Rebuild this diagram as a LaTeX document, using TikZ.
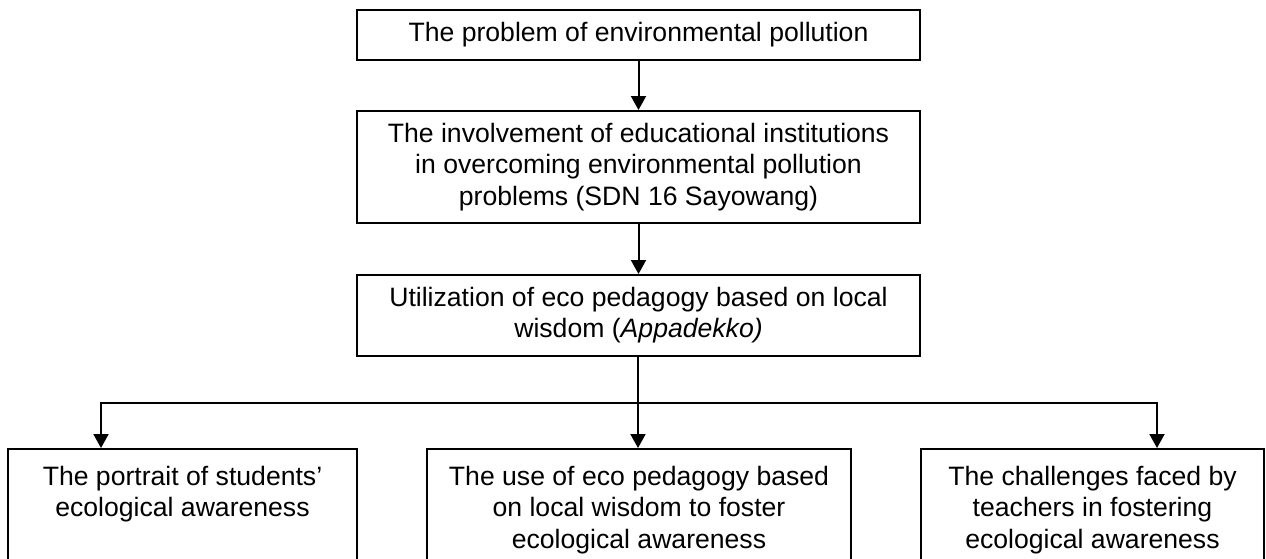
\documentclass[tikz,border=0pt]{standalone}
\usepackage{fontspec}
\setmainfont{Liberation Sans}
\usetikzlibrary{arrows.meta}
\begin{document}
\begin{tikzpicture}[x=0.5pt,y=-0.5pt,
  txt/.style={inner sep=0pt, align=center, font=\fontsize{13.3}{15.6}\selectfont},
  box/.style={draw, line width=1pt, txt},
  arr/.style={-{Triangle[width=7.5pt,length=7pt]}, line width=1pt},
  thinline/.style={line width=0.65pt}]
\useasboundingbox (0,0) rectangle (1266,558);
\clip (0,0) rectangle (1266,558);

% chain of three boxes
\node[box, minimum width=281.5pt, minimum height=25pt] (b1) at (638.5,34.5)
  {The problem of environmental pollution};
\node[box, minimum width=281.5pt, minimum height=56pt] (b2) at (638.5,167)
  {The involvement of educational institutions\\in overcoming environmental pollution\\problems (SDN 16 Sayowang)};
\node[box, minimum width=281.5pt, minimum height=40.5pt] (b3) at (638.5,315.5)
  {Utilization of eco pedagogy based on local\\wisdom (\textit{Appadekko)}};

% three outcome boxes (running past the lower edge)
\node[box, minimum width=174.5pt, minimum height=85.5pt] (b4) at (182.5,534.5) {};
\node[box, minimum width=212pt, minimum height=85.5pt] (b5) at (639,534.5) {};
\node[box, minimum width=171.5pt, minimum height=85.5pt] (b6) at (1092.5,534.5) {};

\node[txt, anchor=north] (t4) at ([yshift=-9pt]b4.north)
  {The portrait of students’\\ecological awareness};
\node[txt, anchor=north] (t5) at ([yshift=-9pt]b5.north)
  {The use of eco pedagogy based\\on local wisdom to foster\\ecological awareness};
\node[txt, anchor=north] (t6) at ([yshift=-9pt]b6.north)
  {The challenges faced by\\teachers in fostering\\ecological awareness};

% connectors
\draw[arr] (b1) -- (b2);
\draw[arr] (b2) -- (b3);

\coordinate (jm) at (638,403);
\coordinate (jl) at (101,403);
\coordinate (jr) at (1157,403);

\draw[thinline] (jm |- b3.south) -- (jm);
\draw[arr] (jm) -- (jl) -- (jl |- b4.north);
\draw[arr] (jm) -- (jr) -- (jr |- b6.north);
\draw[arr] (jm) -- (jm |- b5.north);
\end{tikzpicture}
\end{document}
